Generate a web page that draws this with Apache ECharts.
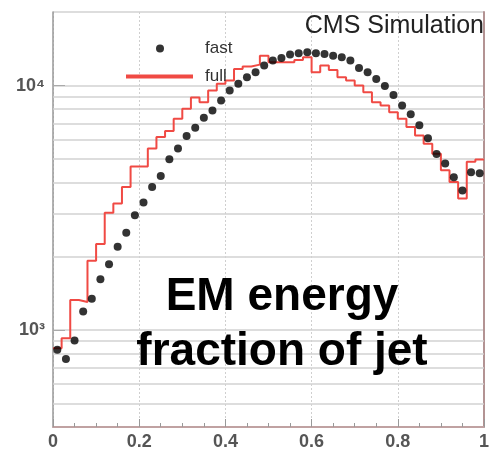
<!DOCTYPE html>
<html><head><meta charset="utf-8">
<script src="https://cdn.jsdelivr.net/npm/echarts@6/dist/echarts.min.js"></script>
<style>html,body{margin:0;padding:0;background:#fff}#c{width:492px;height:455px}</style>
</head><body><div id="c"></div>
<script>
// EM energy fraction of jet: bins of width 0.02 from 0 to 1
const binWidth = 0.02;
// "fast" simulation (points at bin centres)
const fastCounts = [828, 759, 904, 1189, 1340, 1611, 1854, 2188, 2495, 2944,
  3318, 3845, 4266, 4990, 5518, 6213, 6716, 7380, 7910, 8690,
  9540, 10160, 10820, 11330, 12070, 12650, 12970, 13390, 13550, 13680,
  13550, 13460, 13250, 13050, 12650, 11810, 11330, 10640, 9950, 9150,
  8290, 7620, 6870, 6080, 5250, 4800, 4210, 3720, 4417, 4375];
// "full" simulation (histogram)
const fullCounts = [840, 924, 1324, 1300, 1919, 2244, 3012, 3288, 3845, 4665,
  4665, 5520, 6150, 6520, 7310, 8040, 8940, 8550, 9540, 10160,
  10480, 11700, 11960, 12180, 13250, 12450, 12450, 12450, 12730, 13050,
  11330, 12070, 11590, 10820, 10480, 10000, 9390, 8550, 8290, 7780,
  7310, 6760, 6250, 5780, 5260, 4500, 4030, 3450, 4870, 4980];
const xTickValues = [0, 0.2, 0.4, 0.6, 0.8, 1];
const xTickLabels = ['0', '0.2', '0.4', '0.6', '0.8', '1'];
const yTickValues = [1000, 10000];
const yTickLabels = ['10\u00b3', '10\u2074'];
const yMinorGrid = [500, 600, 700, 800, 900, 2000, 3000, 4000, 5000, 6000, 7000, 8000, 9000];
const seriesNames = ['fast', 'full'];

const fastData = fastCounts.map((v, i) => [+(i * binWidth + binWidth / 2).toFixed(3), v]);
const fullData = fullCounts.map((v, i) => [+(i * binWidth).toFixed(3), v]);
fullData.push([1, fullCounts[fullCounts.length - 1]]);

const FONT = "'Liberation Sans', Arial, Helvetica, sans-serif";
const chart = echarts.init(document.getElementById('c'), null, {renderer: 'canvas'});
chart.setOption({
  animation: false,
  backgroundColor: '#fff',
  grid: {left: 53, right: 2, top: 12, bottom: 28, containLabel: false},
  xAxis: {
    type: 'value', min: 0, max: 1, interval: 0.2,
    axisLine: {show: true, lineStyle: {color: '#c0a2a2', width: 2}},
    axisTick: {show: true, inside: true, length: 8, lineStyle: {color: '#999'}},
    minorTick: {show: true, splitNumber: 4, length: 4, lineStyle: {color: '#999'}},
    axisLabel: {
      margin: 6, fontSize: 18, fontWeight: 'bold', color: '#555', fontFamily: FONT,
      formatter: v => { const i = xTickValues.findIndex(t => Math.abs(t - v) < 1e-6); return i >= 0 ? xTickLabels[i] : ''; }
    },
    splitLine: {show: true, lineStyle: {color: '#cfcfcf', type: [2, 2], width: 1}}
  },
  yAxis: [{
    type: 'log', logBase: 10, min: 400, max: 20000, position: 'left',
    axisLine: {show: true, lineStyle: {color: '#999', width: 1.5}},
    axisTick: {show: true, inside: true, length: 12, lineStyle: {color: '#aaa'}},
    axisLabel: {
      showMinLabel: false, showMaxLabel: false, margin: 8,
      fontSize: 18, fontWeight: 'bold', color: '#555', fontFamily: FONT,
      formatter: v => { const i = yTickValues.findIndex(t => Math.abs(t - v) < 1e-3 * t); return i >= 0 ? yTickLabels[i] : ''; }
    },
    splitLine: {show: true, lineStyle: {color: '#d2d2d2', width: 1.5}}
  }, {
    type: 'log', logBase: 10, min: 400, max: 20000, position: 'right',
    axisLine: {show: true, lineStyle: {color: '#b39393', width: 2}},
    axisTick: {show: false}, axisLabel: {show: false}, splitLine: {show: false}
  }],
  legend: [{
    data: [{name: seriesNames[0], icon: 'circle'}], left: 156, top: 40, padding: 0,
    itemWidth: 8, itemHeight: 8, selectedMode: false,
    textStyle: {fontSize: 17, color: '#333', fontFamily: FONT, padding: [0, 0, 0, 36]}
  }, {
    data: [{name: seriesNames[1], icon: 'rect'}], left: 126, top: 68, padding: 0,
    itemWidth: 67, itemHeight: 4, selectedMode: false,
    textStyle: {fontSize: 17, color: '#333', fontFamily: FONT, padding: [0, 0, 0, 7]}
  }],
  series: [{
    name: seriesNames[1], type: 'line', data: fullData, step: 'end',
    showSymbol: false, symbol: 'none', z: 2,
    lineStyle: {color: '#f04a44', width: 2}, itemStyle: {color: '#f04a44'},
    markLine: {
      silent: true, z: 1, symbol: ['none', 'none'], label: {show: false},
      lineStyle: {color: '#d2d2d2', type: 'solid', width: 1.5},
      emphasis: {disabled: true},
      data: yMinorGrid.map(v => ({yAxis: v}))
    }
  }, {
    name: seriesNames[0], type: 'scatter', data: fastData, symbol: 'circle', symbolSize: 8, z: 3,
    itemStyle: {color: '#000'}
  }],
  graphic: [{
    type: 'text', right: 8, top: 14, z: 10,
    style: {text: 'CMS Simulation', font: "25px " + FONT, fill: '#222'}
  }, {
    type: 'text', x: 282, y: 297, z: 10,
    style: {text: 'EM energy', font: "bold 46px " + FONT, fill: '#000', textAlign: 'center', textVerticalAlign: 'middle'}
  }, {
    type: 'text', x: 282, y: 352, z: 10,
    style: {text: 'fraction of jet', font: "bold 46px " + FONT, fill: '#000', textAlign: 'center', textVerticalAlign: 'middle'}
  }]
});
</script></body></html>
